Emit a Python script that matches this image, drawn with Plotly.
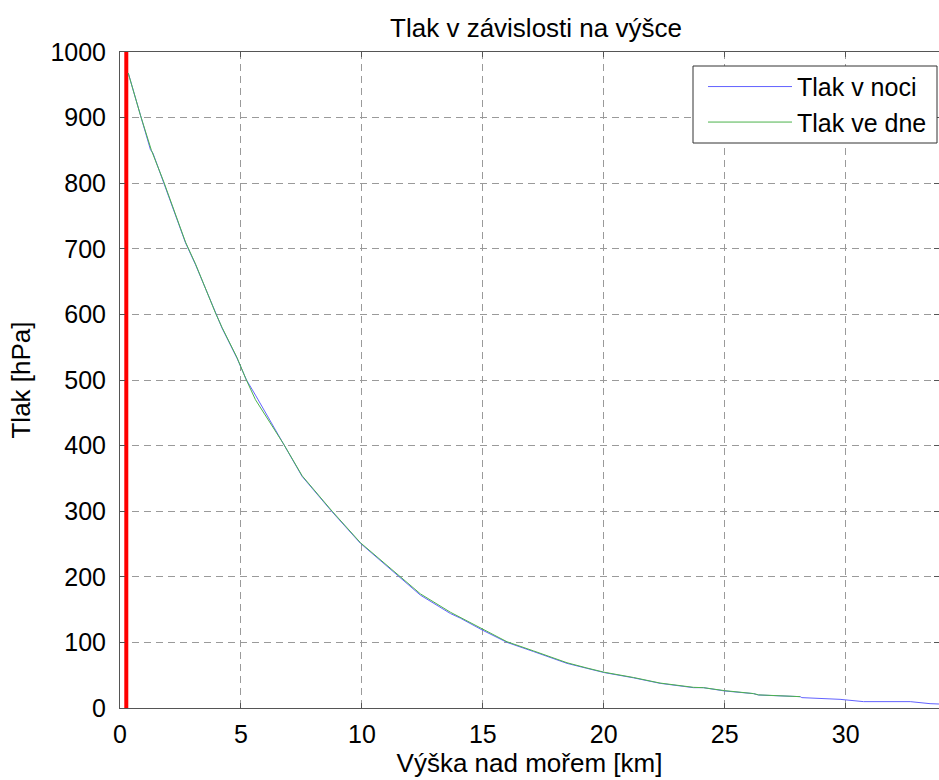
import plotly.graph_objects as go

# Night-time sounding: altitude [km] and pressure [hPa]
vyska_noc = [0.34, 0.85, 1.26, 1.36, 1.81, 2.71, 3.12, 3.95, 4.22, 4.84, 5.23, 5.6,
             6.77, 7.53, 8.77, 9.94, 11.45, 12.42, 13.66, 14.07, 14.97, 16.0, 17.1,
             18.48, 19.3, 20.02, 21.23, 22.33, 23.71, 24.12, 24.99, 26.19, 26.4,
             28.12, 28.19, 29.77, 30.74, 32.67, 33.49, 33.86]
tlak_noc = [968, 902, 851, 846, 800, 709, 676, 601, 579, 533, 500, 477,
            401, 353, 299, 251, 203, 172, 144, 137, 119, 100, 86,
            68, 60.5, 54, 46, 37.6, 31, 31, 26, 21.9, 19.8,
            17.3, 15.8, 13.2, 9.7, 9.7, 6.6, 6.1]

# Day-time sounding
vyska_den = [0.34, 0.85, 1.3, 1.81, 2.71, 3.12, 3.95, 4.22, 4.84, 5.2, 5.6, 6.77,
             7.53, 8.77, 9.94, 11.45, 12.42, 13.66, 14.07, 14.97, 16.0, 17.1, 18.48,
             19.3, 20.02, 21.23, 22.33, 23.71, 24.12, 24.99, 26.19, 26.4, 28.12]
tlak_den = [968, 903, 850, 802, 710, 677, 602, 580, 534, 502, 470, 402,
            354, 300, 252, 204, 174, 146, 138, 120, 101, 87, 69,
            61, 54.5, 46.5, 38, 31.5, 31, 26.5, 22, 20, 17.3]

# Launch-site altitude marker
mez_x = [0.26, 0.26]
mez_y = [0, 1000]

x_ticks = [0, 5, 10, 15, 20, 25, 30]
y_ticks = [0, 100, 200, 300, 400, 500, 600, 700, 800, 900, 1000]

FONT = "Liberation Sans, Arial, sans-serif"

fig = go.Figure()
fig.add_trace(go.Scatter(x=mez_x, y=mez_y, mode="lines", showlegend=False,
                         line=dict(color="#ff0000", width=4)))
fig.add_trace(go.Scatter(x=vyska_noc, y=tlak_noc, mode="lines", name="Tlak v noci",
                         line=dict(color="#6262ff", width=1)))
fig.add_trace(go.Scatter(x=vyska_den, y=tlak_den, mode="lines", name="Tlak ve dne",
                         line=dict(color="#4cb24c", width=1)))

axis_common = dict(
    showline=True, linecolor="#555555", linewidth=1, mirror="ticks",
    ticks="inside", ticklen=5, tickcolor="#555555",
    showgrid=True, gridcolor="#9a9a9a", gridwidth=1, griddash="7px,5px",
    zeroline=False, tickfont=dict(family=FONT, size=25, color="#000000"),
)

# Legend frame (pixel box converted to paper coordinates of the plot area)
PL, PW, PB, PH = 120, 819, 708, 656
frame = dict(type="rect", xref="paper", yref="paper", layer="above",
             x0=(693 - PL) / PW, x1=(937 - PL) / PW,
             y0=(PB - 143) / PH, y1=(PB - 66) / PH,
             line=dict(color="#333333", width=1), fillcolor="white")

fig.update_layout(
    width=939, height=780,
    margin=dict(l=120, r=0, t=52, b=72),
    paper_bgcolor="white", plot_bgcolor="white",
    title=dict(text="Tlak v závislosti na výšce", x=(536 - PL) / PW, xref="paper",
               xanchor="center", y=1 - 28 / 780, yref="container", yanchor="middle",
               font=dict(family=FONT, size=26, color="#000000")),
    xaxis=dict(range=[0, 33.86], tickvals=x_ticks, ticklabelstandoff=4,
               title=dict(text="Výška nad mořem [km]", standoff=6,
                          font=dict(family=FONT, size=26, color="#000000")),
               **axis_common),
    yaxis=dict(range=[0, 1000], tickvals=y_ticks, ticklabelstandoff=8,
               title=dict(text="Tlak [hPa]", standoff=12,
                          font=dict(family=FONT, size=26, color="#000000")),
               **axis_common),
    legend=dict(x=(703 - PL) / PW, xanchor="left", y=0.982, yanchor="top",
                bgcolor="rgba(0,0,0,0)", borderwidth=0,
                font=dict(family=FONT, size=25, color="#000000"),
                itemwidth=84, tracegroupgap=0),
    shapes=[frame],
    showlegend=True,
)

fig.write_html("out.html")
